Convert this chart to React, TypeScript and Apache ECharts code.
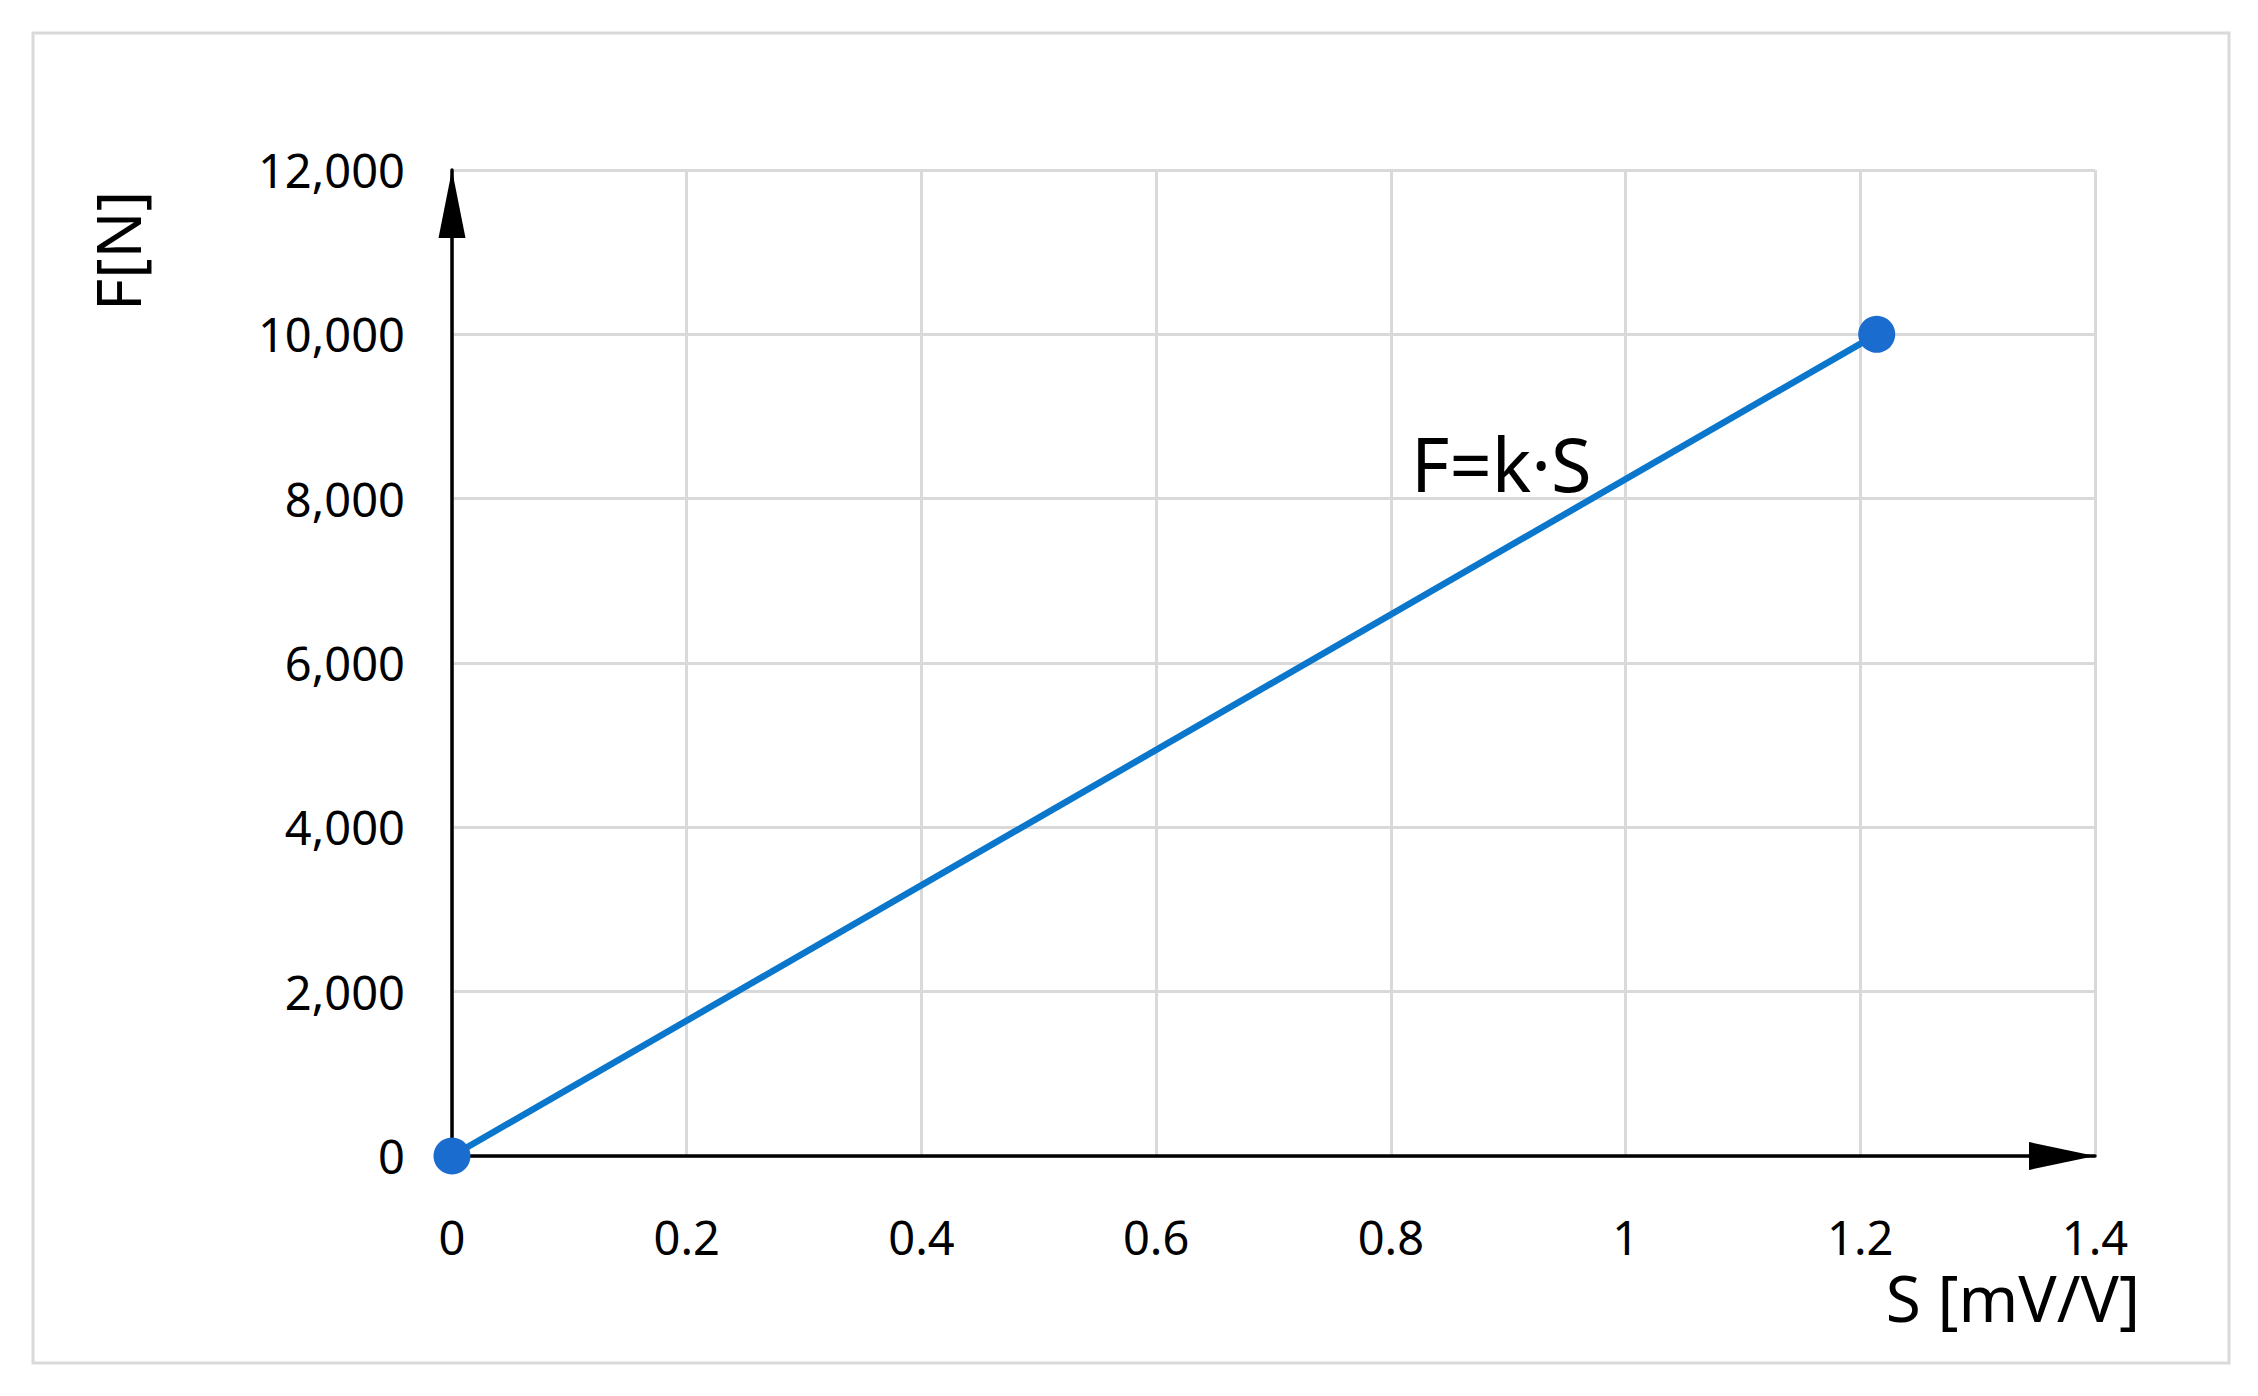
import React, { useEffect, useRef } from "react";
import * as echarts from "echarts";

const sValues = [0, 1.214];
const fValues = [0, 10000];
const xMin = 0, xMax = 1.4, xStep = 0.2;
const yMin = 0, yMax = 12000, yStep = 2000;
const xTitle = "S [mV/V]";
const yTitle = "F[N]";
const formulaText = "F=k·S";

const FONT = "'Noto Sans', 'Open Sans', sans-serif";

export default function App() {
  const ref = useRef<HTMLDivElement>(null);
  useEffect(() => {
    if (!ref.current) return;
    const chart = echarts.init(ref.current, null, { renderer: "svg" });
    chart.setOption({
      animation: false,
      backgroundColor: "#ffffff",
      textStyle: { fontFamily: FONT },
      grid: { left: 452, right: 163, top: 170, bottom: 240, containLabel: false },
      xAxis: {
        type: "value",
        min: xMin,
        max: xMax,
        interval: xStep,
        axisLine: {
          show: true,
          onZero: true,
          symbol: ["none", "triangle"],
          symbolSize: [28, 66],
          symbolOffset: [0, -33],
          lineStyle: { color: "#000000", width: 3.5 },
        },
        axisTick: { show: false },
        axisLabel: { color: "#000000", fontSize: 47, lineHeight: 38, fontFamily: FONT, margin: 62 },
        splitLine: { show: true, lineStyle: { color: "#d9d9d9", width: 3 } },
      },
      yAxis: {
        type: "value",
        min: yMin,
        max: yMax,
        interval: yStep,
        axisLine: {
          show: true,
          onZero: true,
          symbol: ["none", "triangle"],
          symbolSize: [27, 68],
          symbolOffset: [0, -34],
          lineStyle: { color: "#000000", width: 3.5 },
        },
        axisTick: { show: false },
        axisLabel: { color: "#000000", fontSize: 47, fontFamily: FONT, margin: 47 },
        splitLine: { show: true, lineStyle: { color: "#d9d9d9", width: 3 } },
      },
      series: [
        {
          type: "line",
          data: sValues.map((s, i) => [s, fValues[i]]),
          symbol: "circle",
          symbolSize: 37,
          showSymbol: true,
          clip: false,
          itemStyle: { color: "#1B6CCF" },
          lineStyle: { color: "#0A77CC", width: 6.5 },
          z: 5,
        },
      ],
      graphic: [
        {
          type: "rect",
          z: -10,
          shape: { x: 33, y: 33, width: 2196, height: 1330 },
          style: { fill: "none", stroke: "#d9d9d9", lineWidth: 3 },
        },
        {
          type: "text",
          x: 117,
          y: 251,
          rotation: Math.PI / 2,
          style: {
            text: yTitle,
            font: `62px ${FONT}`,
            fill: "#000000",
            textAlign: "center",
            textVerticalAlign: "middle",
          },
        },
        {
          type: "text",
          x: 2140,
          y: 1297,
          style: {
            text: xTitle,
            font: `64px ${FONT}`,
            lineHeight: 48,
            fill: "#000000",
            textAlign: "right",
            textVerticalAlign: "middle",
          },
        },
        {
          type: "text",
          x: 1411,
          y: 463,
          style: {
            text: formulaText,
            font: `74px ${FONT}`,
            fill: "#000000",
            textAlign: "left",
            textVerticalAlign: "middle",
          },
        },
      ],
    });
    return () => chart.dispose();
  }, []);
  return (
    <div
      ref={ref}
      style={{ position: "fixed", left: 0, top: 0, width: 2258, height: 1396 }}
    />
  );
}
